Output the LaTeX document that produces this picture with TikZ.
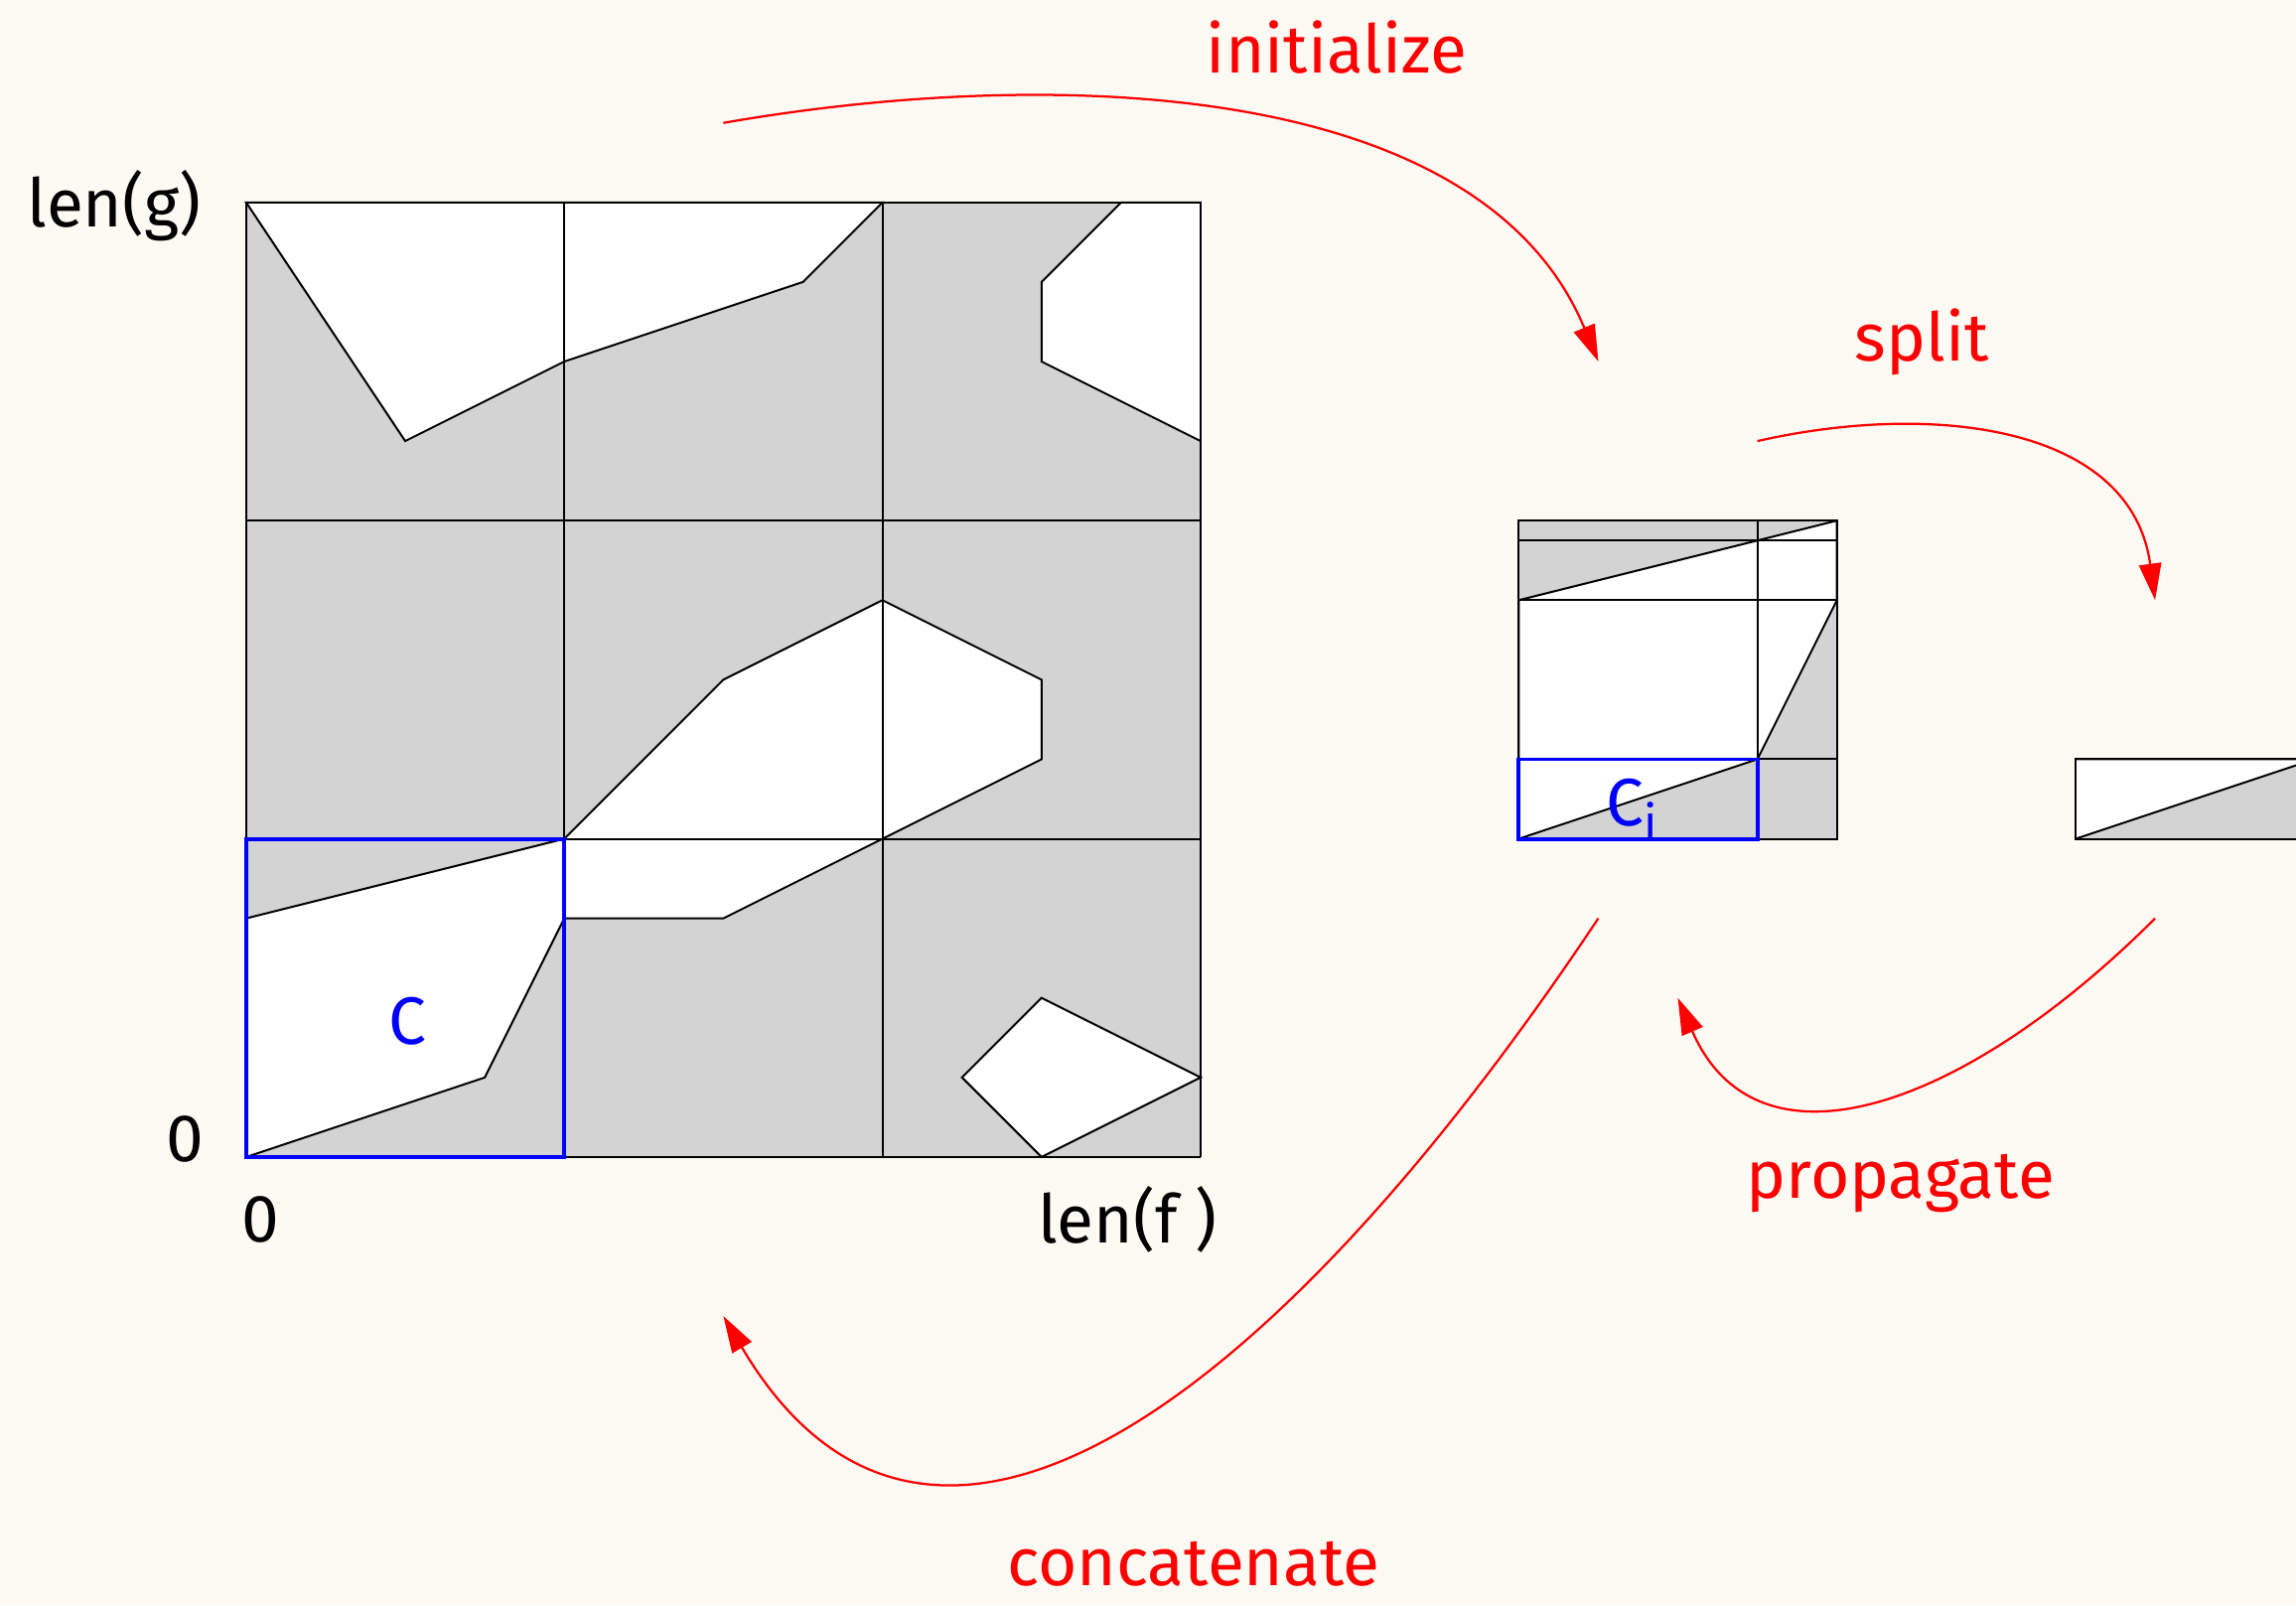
\documentclass[tikz,border=0pt]{standalone}
\usepackage{fontspec}
\setmainfont{Fira Sans}
\usetikzlibrary{arrows.meta}
\definecolor{paper}{RGB}{253,250,244}
\definecolor{blocked}{RGB}{211,211,211}

\begin{document}
\begin{tikzpicture}[x=1cm,y=1cm,
  cellline/.style={line width=0.7pt},
  free/.style={fill=white,draw=black,line width=0.7pt},
  cellbox/.style={draw=blue,line width=1.4pt},
  redarrow/.style={red,line width=0.8pt,-{Triangle[length=4.6mm,width=2.8mm]}},
  steplabel/.style={red,font=\fontsize{24}{29}\selectfont},
  axislabel/.style={font=\fontsize{24}{29}\selectfont}]
  \fill[paper] (-3.095,-5.632) rectangle (25.772,14.545);
  \useasboundingbox (-3.095,-5.632) rectangle (25.772,14.545);

  % full matrix
  \fill[blocked] (0,0) rectangle (12,12);
  \draw[free] (0,12) -- (2,9) -- (4,10) -- (7,11) -- (8,12) -- cycle;
  \draw[free] (11,12) -- (10,11) -- (10,10) -- (12,9) -- (12,12) -- cycle;
  \draw[free] (0,0) -- (0,3) -- (4,4) -- (6,6) -- (8,7) -- (10,6) -- (10,5)
    -- (8,4) -- (6,3) -- (4,3) -- (3,1) -- cycle;
  \draw[free] (10,0) -- (9,1) -- (10,2) -- (12,1) -- cycle;
  \draw[cellline,step=4] (0,0) grid (12,12);
  \draw[cellbox] (0,0) rectangle (4,4);
  \node[axislabel,blue] (c) at (2.03,1.71) {C};

  \node[axislabel] (leng) at (-1.66,11.96) {len(g)};
  \node[axislabel] (zeroy) at (-0.77,0.22) {0};
  \node[axislabel] (zerox) at (0.18,-0.79) {0};
  \node[axislabel] (lenf) at (11.08,-0.79) {len(f )};

  % split block
  \fill[blocked] (16,4) rectangle (20,8);
  \draw[free] (16,4) -- (19,5) -- (20,7) -- (20,8) -- (19,7.75) -- (16,7) -- cycle;
  \draw[cellline] (16,4) rectangle (20,8) (19,4) -- (19,8)
    (16,5) -- (20,5) (16,7) -- (20,7) (16,7.75) -- (20,7.75);
  \draw[cellbox] (16,4) rectangle (19,5);
  \node[axislabel,blue] (ci) at (17.43,4.38) {C\textsubscript{i}};

  % single cell
  \fill[blocked] (23,4) rectangle (26,5);
  \draw[free] (23,4) -- (23,5) -- (26,5) -- cycle;
  \draw[cellline] (23,4) rectangle (26,5);

  % steps
  \coordinate (initfrom) at (6,13);
  \coordinate (initto) at (17,10);
  \coordinate (splitfrom) at (19,9);
  \coordinate (splitto) at (24,7);
  \coordinate (propfrom) at (24,3);
  \coordinate (propto) at (18,2);
  \coordinate (catfrom) at (17,3);
  \coordinate (catto) at (6,-2);
  \draw[redarrow] (initfrom) .. controls (10,13.7) and (15.5,13.6) .. (initto);
  \draw[redarrow] (splitfrom) .. controls (21.2,9.5) and (23.7,9.2) .. (splitto);
  \draw[redarrow] (propfrom) .. controls (21.6,0.6) and (19,-0.3) .. (propto);
  \draw[redarrow] (catfrom) .. controls (13,-3) and (8.6,-6.4) .. (catto);

  \node[steplabel] (init) at (13.71,13.95) {initialize};
  \node[steplabel] (split) at (21.07,10.25) {split};
  \node[steplabel] (prop) at (20.80,-0.33) {propagate};
  \node[steplabel] (cat) at (11.91,-5.12) {concatenate};
\end{tikzpicture}
\end{document}
